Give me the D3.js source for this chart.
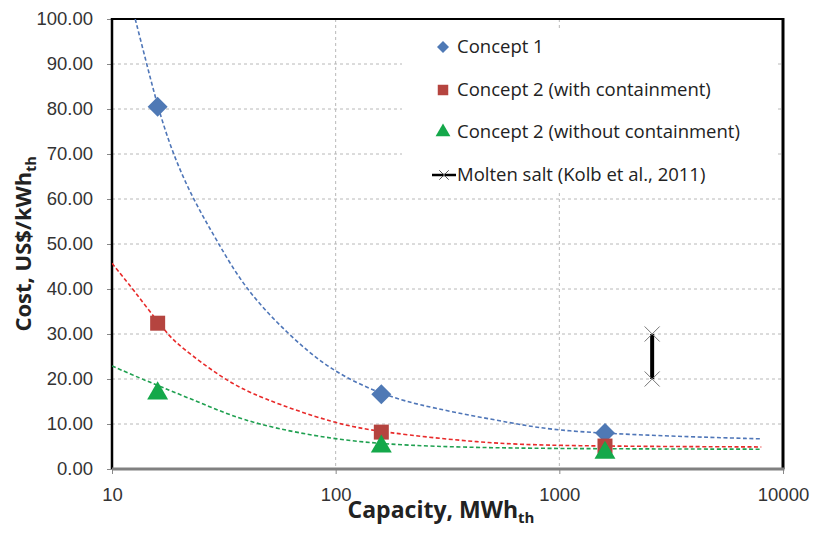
<!DOCTYPE html>
<meta charset="utf-8">
<title>Cost vs capacity</title>
<style>
body { margin: 0; background: #fff; font-family: "Open Sans", sans-serif; }
.grid line { stroke: #b8b8b8; stroke-dasharray: 3,3; }
.tick text { fill: #333; }
</style>
<svg width="814" height="535"></svg>
<script src="https://d3js.org/d3.v7.min.js"></script>
<script>
// measured points (capacity MWh_th, cost US$/kWh_th)
const capacity = [16, 160, 1600];
const concept1 = [80.5, 16.6, 8.0];
const concept2With = [32.4, 8.2, 5.1];
const concept2Without = [16.8, 5.0, 3.6];

// dashed trend lines
const trend1 = [[12.7,100],[14.3,90],[16,80.5],[18.7,70],[23,60],[29.3,50.9],[39.3,40],[61,30],[94,22],[160,16.5],[263,13.6],[643,10],[1000,8.4],[3000,7.3],[8000,6.7]];
const trend2With = [[10,45.7],[12.4,40],[17.6,30],[20.1,27.3],[31.3,20],[45.8,15.8],[100,10],[160,8.2],[440,5.8],[1000,5.1],[8000,4.9]];
const trend2Without = [[10,22.9],[13.6,20],[16,18.6],[27.4,13.8],[42.6,10],[104,6.2],[263,4.9],[1000,4.5],[8000,4.4]];

// molten salt range (Kolb et al., 2011)
const saltCapacity = 2600;
const saltRange = [20, 30];

const yTicks = d3.range(0, 101, 10);
const xTicks = [10, 100, 1000, 10000];

const svg = d3.select("svg");
const m = { left: 112, top: 19, right: 783, bottom: 469 };
const x = d3.scaleLog().domain([10, 10000]).range([m.left, m.right]);
const y = d3.scaleLinear().domain([0, 100]).range([m.bottom, m.top]);

svg.append("defs").append("clipPath").attr("id", "clip")
  .append("rect").attr("x", m.left).attr("y", m.top)
  .attr("width", m.right - m.left).attr("height", m.bottom - m.top);

// grid
const grid = svg.append("g").attr("class", "grid");
grid.selectAll(".h").data(yTicks.slice(1)).enter().append("line")
  .attr("x1", m.left).attr("x2", m.right)
  .attr("y1", d => y(d)).attr("y2", d => y(d));
grid.selectAll(".v").data([100, 1000]).enter().append("line")
  .attr("x1", d => x(d)).attr("x2", d => x(d))
  .attr("y1", m.top).attr("y2", m.bottom);

// legend box hides the grid behind it
svg.append("rect").attr("x", 402).attr("y", 30).attr("width", 376).attr("height", 162).attr("fill", "#fff");

// axes
const yAxis = svg.append("g").attr("transform", `translate(${m.left},0)`)
  .call(d3.axisLeft(y).tickValues(yTicks).tickFormat(d3.format(".2f")).tickSize(5).tickPadding(14));
yAxis.select(".domain").remove();
yAxis.selectAll(".tick line").attr("stroke", "#888");
yAxis.selectAll("text").style("font-size", "18.5px");

const xAxis = svg.append("g").attr("transform", `translate(0,${m.bottom})`)
  .call(d3.axisBottom(x).tickValues(xTicks).tickFormat(d3.format("d")).tickSize(5).tickPadding(14));
xAxis.select(".domain").remove();
xAxis.selectAll(".tick line").attr("stroke", "#888");
xAxis.selectAll("text").style("font-size", "18.5px");

// plot frame
svg.append("line").attr("x1", m.left).attr("x2", m.right).attr("y1", m.top).attr("y2", m.top).attr("stroke", "#000").attr("stroke-width", 2);
svg.append("line").attr("x1", m.right).attr("x2", m.right).attr("y1", m.top - 1).attr("y2", m.bottom).attr("stroke", "#000").attr("stroke-width", 3);
svg.append("line").attr("x1", m.left).attr("x2", m.left).attr("y1", m.top - 1).attr("y2", m.bottom).attr("stroke", "#000").attr("stroke-width", 2.5);
svg.append("line").attr("x1", m.left).attr("x2", m.right + 1.5).attr("y1", m.bottom).attr("y2", m.bottom).attr("stroke", "#808080").attr("stroke-width", 3);

// trend lines
const line = d3.line().x(d => x(d[0])).y(d => y(d[1])).curve(d3.curveBasis);
const trends = [
  { data: trend1, color: "#4f76b8" },
  { data: trend2With, color: "#e82a2a" },
  { data: trend2Without, color: "#1fa050" }
];
svg.append("g").attr("clip-path", "url(#clip)").selectAll("path").data(trends).enter().append("path")
  .attr("d", d => line(d.data)).attr("fill", "none")
  .attr("stroke", d => d.color).attr("stroke-width", 1.6).attr("stroke-dasharray", "4,2.5");

// molten salt range bar
const sx = x(saltCapacity);
svg.append("line").attr("x1", sx).attr("x2", sx).attr("y1", y(saltRange[1])).attr("y2", y(saltRange[0]))
  .attr("stroke", "#000").attr("stroke-width", 4);
const cross = d3.symbol().type(d3.symbolX).size(150);
svg.selectAll(".salt").data(saltRange).enter().append("path")
  .attr("transform", d => `translate(${sx},${y(d)})`)
  .attr("d", cross).attr("fill", "none").attr("stroke", "#777").attr("stroke-width", 1);

// diamond = square turned 45 degrees
const series = [
  { name: "Concept 1", values: concept1, color: "#4f79b5", type: d3.symbolSquare, rot: 45, size: 200, lsize: 72 },
  { name: "Concept 2 (with containment)", values: concept2With, color: "#b5443f", type: d3.symbolSquare, rot: 0, size: 225, lsize: 110 },
  { name: "Concept 2 (without containment)", values: concept2Without, color: "#14a84a", type: d3.symbolTriangle, rot: 0, size: 190, lsize: 95 }
];
series.forEach(s => {
  svg.append("g").selectAll("path").data(s.values).enter().append("path")
    .attr("transform", (d, i) => `translate(${x(capacity[i])},${y(d)}) rotate(${s.rot})`)
    .attr("d", d3.symbol().type(s.type).size(s.size)).attr("fill", s.color);
});

// legend
const legend = svg.append("g").attr("transform", "translate(443,0)");
const rowY = [47, 90, 132, 175];
series.forEach((s, i) => {
  legend.append("path").attr("transform", `translate(0,${rowY[i]}) rotate(${s.rot})`)
    .attr("d", d3.symbol().type(s.type).size(s.lsize)).attr("fill", s.color);
  legend.append("text").attr("x", 14).attr("y", rowY[i]).attr("dy", "0.35em")
    .style("font-size", "18.5px").attr("fill", "#222").text(s.name);
});
legend.append("line").attr("x1", -11).attr("x2", 13).attr("y1", rowY[3]).attr("y2", rowY[3]).attr("stroke", "#000").attr("stroke-width", 2.5);
legend.append("path").attr("transform", `translate(1,${rowY[3]})`).attr("d", d3.symbol().type(d3.symbolX).size(60))
  .attr("stroke", "#555").attr("fill", "none");
legend.append("text").attr("x", 14).attr("y", rowY[3]).attr("dy", "0.35em")
  .style("font-size", "18.5px").attr("fill", "#222").text("Molten salt (Kolb et al., 2011)");

// axis titles
const xt = svg.append("text").attr("x", 441).attr("y", 518).attr("text-anchor", "middle")
  .style("font-size", "23px").style("font-weight", "bold").attr("fill", "#222");
xt.append("tspan").text("Capacity, MWh");
xt.append("tspan").attr("dy", 5).style("font-size", "15px").text("th");

const yt = svg.append("text").attr("transform", `translate(31,${(m.top + m.bottom) / 2}) rotate(-90)`)
  .attr("text-anchor", "middle").style("font-size", "22px").style("font-weight", "bold").attr("fill", "#222");
yt.append("tspan").text("Cost, US$/kWh");
yt.append("tspan").attr("dy", 5).style("font-size", "14px").text("th");
</script>
